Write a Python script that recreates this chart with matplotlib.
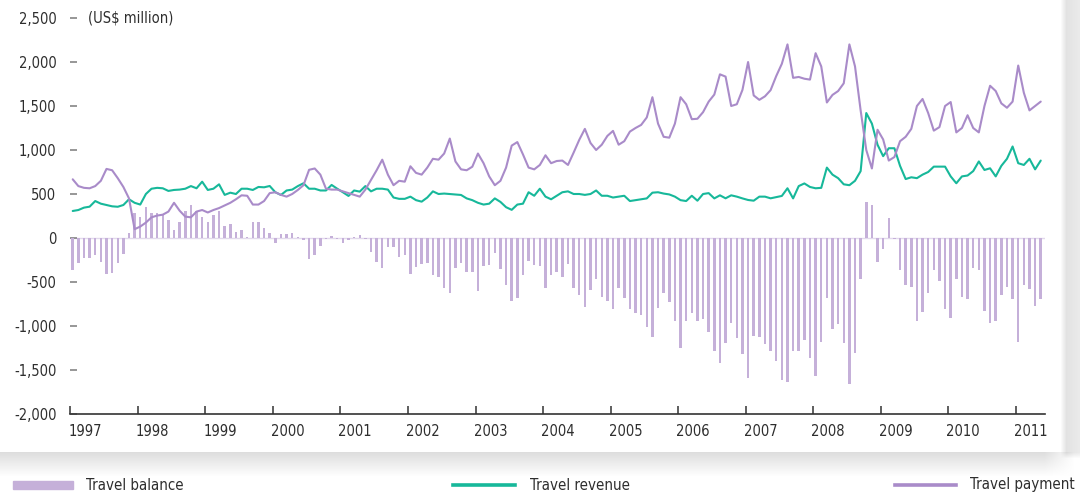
import numpy as np
import matplotlib
matplotlib.use("Agg")
import matplotlib.pyplot as plt
from matplotlib import font_manager as fm
import matplotlib.transforms as mtransforms
from matplotlib.patches import Rectangle
from matplotlib.lines import Line2D

# ---------------- data (monthly, Jan 1997 - May 2011, US$ million) ----------------
years = [1997, 1998, 1999, 2000, 2001, 2002, 2003, 2004, 2005, 2006, 2007, 2008, 2009, 2010, 2011]

travel_balance = [
    -364, -280, -224, -224, -197, -269, -409, -394, -280, -178,
    60, 280, 235, 349, 280, 280, 261, 205, 91, 182,
    307, 371, 307, 243, 182, 261, 307, 136, 155, 68,
    91, 15, 182, 182, 114,
    53, -53, 45, 45, 60, 8, -23, -243, -197, -87,
    -15, 23, -15, -53, -23, 15, 34, -8, -155, -269,
    -345, -99, -99, -220, -197, -413, -326, -300, -288, -421,
    -447, -572, -622, -345, -288,
    -390, -390, -603, -318, -303, -174, -349, -538, -720, -682,
    -417, -265, -303, -318, -565, -417, -387, -440, -296, -565,
    -652, -781, -587, -462, -675, -713, -803, -565, -682, -803,
    -849, -872, -1016, -1129,
    -800, -629, -724, -940, -1254, -940, -849, -940, -925, -1065,
    -1281, -1425, -1198, -970, -1141, -1319, -1588, -1114, -1129, -1205,
    -1281, -1398, -1615, -1633, -1281, -1281, -1160, -1361, -1565, -1179,
    -686, -1035, -978, -1198, -1660,
    -1304, -462, 413, 375, -269, -129, 224, -15, -364, -534,
    -561, -940, -845, -629, -364, -485, -811, -913, -462, -675,
    -697, -345, -364, -826, -963, -940, -652, -561, -697, -1179,
    -534, -576, -773, -697,
]

travel_revenue = [
    307, 318, 345, 356, 420, 390, 375, 360, 355, 375,
    440, 400, 380, 500, 560, 570, 565, 535, 546, 550,
    560, 590, 565, 640, 546, 560, 610, 490, 515, 500,
    560, 560, 546, 580, 576,
    591, 520, 489, 540, 550, 590, 622, 560, 560, 540,
    540, 603, 560, 520, 478, 540, 527, 590, 530, 560,
    560, 550, 460, 445, 445, 470, 430, 413, 460, 530,
    500, 505, 500, 496, 489,
    450, 430, 400, 380, 390, 450, 410, 350, 320, 380,
    390, 520, 480, 560, 470, 440, 480, 520, 530, 500,
    500, 490, 500, 540, 480, 480, 460, 470, 480, 420,
    430, 440, 450, 515,
    520, 505, 495, 470, 430, 420, 480, 424, 500, 510,
    450, 485, 451, 485, 470, 450, 432, 424, 470, 470,
    451, 465, 478, 565, 450, 590, 620, 580, 565, 570,
    800, 720, 680, 610, 600,
    650, 760, 1420, 1300, 1060, 930, 1020, 1020, 820, 670,
    690, 680, 720, 750, 811, 811, 811, 700, 622, 700,
    710, 760, 870, 773, 792, 700, 820, 900, 1040, 850,
    830, 900, 780, 880,
]

travel_payment = [
    667, 590, 570, 565, 590, 650, 785, 770, 680, 580,
    450, 100, 130, 175, 235, 255, 265, 300, 400, 310,
    243, 235, 300, 318, 290, 318, 340, 370, 400, 440,
    485, 480, 380, 380, 420,
    510, 520, 490, 470, 500, 546, 600, 775, 790, 720,
    560, 550, 550, 530, 510, 490, 470, 550, 660, 770,
    890, 720, 600, 650, 640, 815, 740, 720, 800, 900,
    890, 960, 1130, 870, 780,
    770, 810, 960, 850, 700, 600, 650, 800, 1050, 1090,
    950, 800, 780, 830, 940, 850, 875, 880, 830, 970,
    1115, 1240, 1080, 1000, 1060, 1160, 1217, 1060, 1100, 1209,
    1250, 1285, 1370, 1600,
    1300, 1150, 1140, 1300, 1600, 1520, 1350, 1355, 1430, 1550,
    1630, 1860, 1834, 1500, 1520, 1683, 2000, 1620, 1570, 1610,
    1680, 1840, 1980, 2200, 1820, 1830, 1810, 1800, 2100, 1950,
    1540, 1626, 1670, 1758, 2200,
    1950, 1450, 1000, 790, 1230, 1120, 880, 920, 1100, 1150,
    1240, 1500, 1580, 1420, 1220, 1260, 1500, 1545, 1200, 1250,
    1395, 1250, 1200, 1500, 1730, 1670, 1530, 1480, 1550, 1960,
    1650, 1450, 1500, 1550,
]

y_ticks = [-2000, -1500, -1000, -500, 0, 500, 1000, 1500, 2000, 2500]
y_labels = ["-2,000", "-1,500", "-1,000", "-500", "0", "500", "1,000", "1,500", "2,000", "2,500"]
unit_label = "(US$ million)"
legend_labels = ["Travel balance", "Travel revenue", "Travel payment"]

# ---------------- style ----------------
BAR_C = "#c5b0d9"
PAY_C = "#a98bc9"
REV_C = "#17b89a"
TXT_C = "#2e2e2e"

names = {f.name for f in fm.fontManager.ttflist}
font_kw = {}
if "Liberation Sans Narrow" in names:
    font_kw = dict(family="Liberation Sans Narrow")
    TS = 11.5
else:
    cond = [f for f in fm.fontManager.ttflist if f.name == "DejaVu Sans" and "ondensed" in f.fname]
    if cond:
        font_kw = dict(family="DejaVu Sans", stretch="condensed")
        TS = 10.5
    else:
        font_kw = dict(family="Roboto Condensed" if "Roboto Condensed" in names else "Roboto")
        TS = 10.5

W, H = 1080, 496
fig = plt.figure(figsize=(W / 100, H / 100), dpi=100)

# background with soft shadows
bg = fig.add_axes([0, 0, 1, 1], zorder=0)
yy, xx = np.mgrid[0:H, 0:W]
img = np.ones((H, W))
right = np.clip((xx - 1060) / 6.0, 0, 1) * np.clip((458 - yy) / 6.0, 0, 1)
img -= 0.11 * right * (1 - 0.3 * np.clip((xx - 1066) / 14.0, 0, 1))
bottom_band = np.where((yy >= 452), np.clip(1 - (yy - 452) / 24.0, 0, 1), 0) * np.clip((1074 - xx) / 30.0, 0, 1)
img -= 0.13 * bottom_band
img = np.clip(img, 0, 1)
bg.imshow(np.dstack([img, img, img]), extent=[0, 1, 0, 1], aspect="auto", interpolation="bilinear")
bg.set_xlim(0, 1)
bg.set_ylim(0, 1)
bg.axis("off")

# main axes
px_month = 5.628
x0_px, x1_px = 70.3, 1044.5
y_top, y_bot = 18.0, 414.0
ax = fig.add_axes([x0_px / W, (H - y_bot) / H, (x1_px - x0_px) / W, (y_bot - y_top) / H], zorder=2)
ax.patch.set_alpha(0)

n = len(travel_balance)
x = np.arange(n)
ax.axhline(0, color="#e2d9ec", lw=1.0, zorder=1)
ax.bar(x, travel_balance, width=0.44, color=BAR_C, zorder=2)
ax.plot(x, travel_revenue, color=REV_C, lw=1.5, zorder=3, solid_joinstyle="round", solid_capstyle="round")
ax.plot(x, travel_payment, color=PAY_C, lw=1.5, zorder=4, solid_joinstyle="round", solid_capstyle="round")

xoff = -0.43
ax.set_xlim(xoff, xoff + (x1_px - x0_px) / px_month)
ax.set_ylim(-2000, 2500)

for s in ["top", "right", "left"]:
    ax.spines[s].set_visible(False)
ax.spines["bottom"].set_color("#333333")
ax.spines["bottom"].set_linewidth(1.2)
ax.spines["bottom"].set_position(("data", -2000))

ax.set_yticks(y_ticks)
ax.set_yticklabels(y_labels, color=TXT_C, fontsize=TS, **font_kw)
ax.tick_params(axis="y", direction="in", length=5, width=1.1, color="#7a7a7a", pad=10)

xt = [12 * (yv - years[0]) + xoff for yv in years]
ax.set_xticks(xt)
ax.set_xticklabels([str(v) for v in years], color=TXT_C, fontsize=TS, ha="left", **font_kw)
ax.tick_params(axis="x", direction="in", length=6, width=1.1, color="#333333", pad=7)
off = mtransforms.ScaledTranslation(-2 / 100, 0, fig.dpi_scale_trans)
for lbl in ax.get_xticklabels():
    lbl.set_transform(lbl.get_transform() + off)

fig.text(88 / W, 1 - 18 / H, unit_label, color=TXT_C, fontsize=TS, va="center", ha="left", **font_kw)

# legend (manual, bottom row)
LS = TS + 0.3
ly = 1 - 485 / H
fig.patches.append(Rectangle((13 / W, 1 - 489 / H), 60 / W, 8 / H, transform=fig.transFigure,
                             color=BAR_C, zorder=5))
fig.text(86 / W, ly, legend_labels[0], color=TXT_C, fontsize=LS, va="center", ha="left", **font_kw)
fig.lines.append(Line2D([453 / W, 515 / W], [ly, ly], transform=fig.transFigure, color=REV_C, lw=2.6))
fig.text(530 / W, ly, legend_labels[1], color=TXT_C, fontsize=LS, va="center", ha="left", **font_kw)
fig.lines.append(Line2D([895 / W, 956 / W], [ly, ly], transform=fig.transFigure, color=PAY_C, lw=2.6))
fig.text(970 / W, ly, legend_labels[2], color=TXT_C, fontsize=LS, va="center", ha="left", **font_kw)

fig.savefig("out.png", dpi=100)
